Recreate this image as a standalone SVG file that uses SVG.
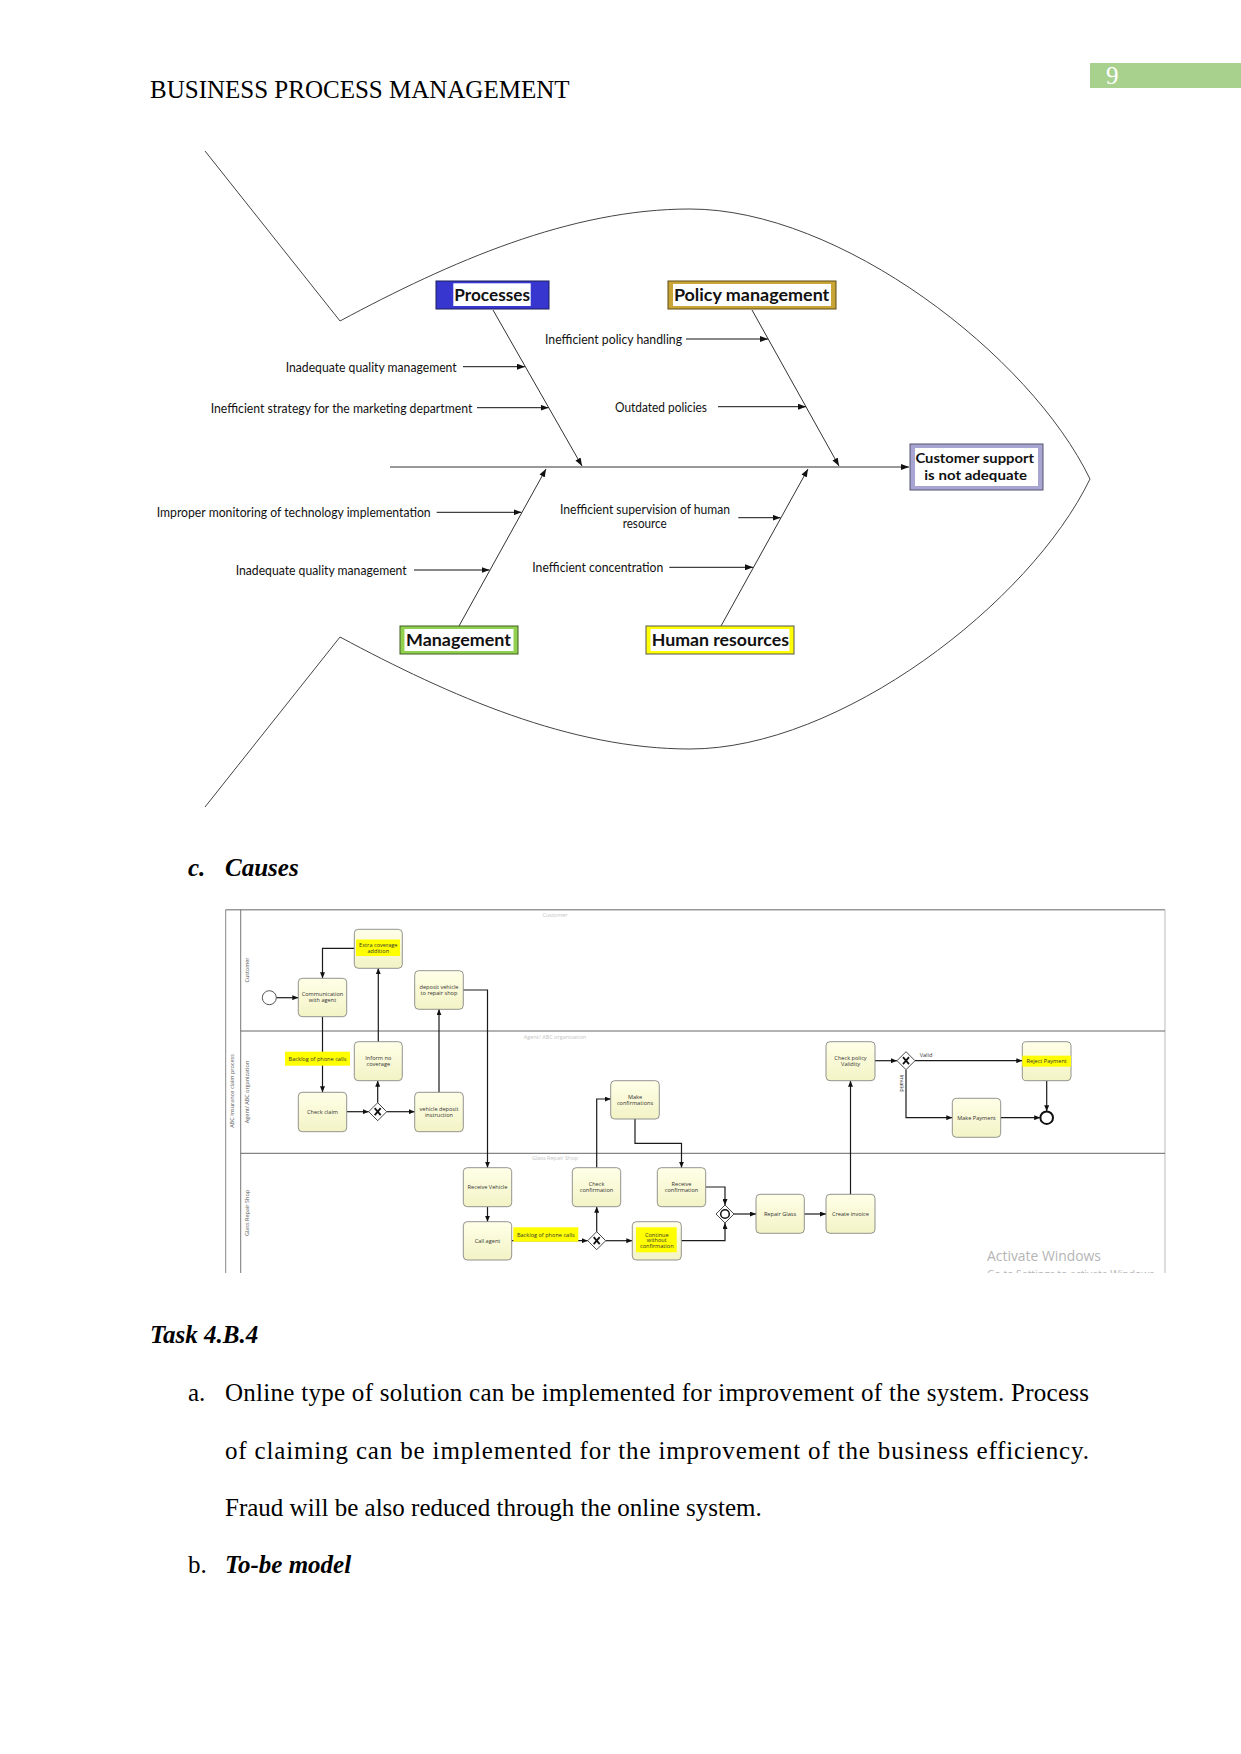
<svg xmlns="http://www.w3.org/2000/svg" width="1241" height="1754" viewBox="0 0 1241 1754">
<style>
.doc{font-family:"Liberation Serif","Times New Roman",serif;font-size:25px;fill:#000}
.bi{font-weight:bold;font-style:italic}
.lbl{font-family:Lato,"Open Sans","Liberation Sans",sans-serif;font-size:13.5px;fill:#111}
.blbl{font-family:Lato,"Open Sans","Liberation Sans",sans-serif;font-size:17px;font-weight:bold;fill:#111}
.bone{stroke:#333;stroke-width:1;fill:none}
.carr{stroke:#111;stroke-width:1;fill:none;marker-end:url(#fa)}
.fish{stroke:#444;stroke-width:1;fill:none}
.task{fill:url(#tg);stroke:#777;stroke-width:0.8}
.tt{font-family:"Open Sans","Liberation Sans",sans-serif;font-size:5.6px;fill:#333;text-anchor:middle}
.hl{fill:#ffff00}
.flow{stroke:#1a1a1a;stroke-width:1.2;fill:none;marker-end:url(#ba)}
.gw{fill:#fff;stroke:#333;stroke-width:0.9}
.lane{stroke:#666;stroke-width:1;fill:none}
.lt{font-family:"Open Sans","Liberation Sans",sans-serif;font-size:5.5px;fill:#555;text-anchor:middle}
.faint{font-family:"Open Sans","Liberation Sans",sans-serif;font-size:5.5px;fill:#c4c4c4;text-anchor:middle}
</style>
<defs>
<marker id="fa" markerUnits="userSpaceOnUse" markerWidth="8" markerHeight="6" refX="8" refY="3" orient="auto"><path d="M0,0 L8,3 L0,6 z" fill="#111"/></marker>
<marker id="ba" markerUnits="userSpaceOnUse" markerWidth="6" markerHeight="5" refX="6" refY="2.5" orient="auto"><path d="M0,0 L6,2.5 L0,5 z" fill="#111"/></marker>
<linearGradient id="tg" x1="0" y1="0" x2="0" y2="1"><stop offset="0" stop-color="#ffffe8"/><stop offset="1" stop-color="#f3f3c6"/></linearGradient>
<clipPath id="wclip"><rect x="900" y="1240" width="270" height="33"/></clipPath>
</defs>

<!-- header -->
<rect x="1090" y="63" width="151" height="25" fill="#a9d18e"/>
<text class="doc" x="1106" y="84" fill="#fff" style="fill:#fff">9</text>
<text class="doc" x="150" y="98">BUSINESS PROCESS MANAGEMENT</text>

<!-- fishbone outline -->
<g id="fish-outline">
<path class="fish" d="M205,151 L340,321 C450,262 570,209 690,209 C840,209 1030,355 1090,479"/>
<path class="fish" d="M205,807 L340,637 C450,696 570,749 690,749 C840,749 1030,603 1090,479"/>
</g>

<g id="connectors">
<line class="bone" x1="390" y1="467" x2="909" y2="467" style="marker-end:url(#fa)"/>
<line class="bone" x1="493" y1="310" x2="582" y2="466" style="marker-end:url(#fa)"/>
<line class="bone" x1="752" y1="310" x2="839" y2="466" style="marker-end:url(#fa)"/>
<line class="bone" x1="459" y1="626" x2="546" y2="469" style="marker-end:url(#fa)"/>
<line class="bone" x1="721" y1="626" x2="808" y2="469" style="marker-end:url(#fa)"/>
<line class="carr" x1="686" y1="339" x2="768" y2="339"/>
<line class="carr" x1="718" y1="406.7" x2="806" y2="406.7"/>
<line class="carr" x1="463" y1="366.7" x2="525" y2="366.7"/>
<line class="carr" x1="477" y1="407.7" x2="548.5" y2="407.7"/>
<line class="carr" x1="436.7" y1="512.3" x2="521.5" y2="512.3"/>
<line class="carr" x1="414" y1="570" x2="489.5" y2="570"/>
<line class="carr" x1="738.3" y1="517.7" x2="780.5" y2="517.7"/>
<line class="carr" x1="669.3" y1="567.3" x2="753" y2="567.3"/>
</g>

<g id="cause-labels">
<text class="lbl" x="545" y="344" textLength="137" lengthAdjust="spacingAndGlyphs">Inefficient policy handling</text>
<text class="lbl" x="615" y="411.5" textLength="92" lengthAdjust="spacingAndGlyphs">Outdated policies</text>
<text class="lbl" x="285.7" y="371.5" textLength="171" lengthAdjust="spacingAndGlyphs">Inadequate quality management</text>
<text class="lbl" x="210.7" y="412.5" textLength="261.6" lengthAdjust="spacingAndGlyphs">Inefficient strategy for the marketing department</text>
<text class="lbl" x="156.7" y="517" textLength="274" lengthAdjust="spacingAndGlyphs">Improper monitoring of technology implementation</text>
<text class="lbl" x="235.7" y="574.8" textLength="171" lengthAdjust="spacingAndGlyphs">Inadequate quality management</text>
<text class="lbl" x="560" y="514" textLength="170" lengthAdjust="spacingAndGlyphs">Inefficient supervision of human</text>
<text class="lbl" x="622.7" y="528.4" textLength="44" lengthAdjust="spacingAndGlyphs">resource</text>
<text class="lbl" x="532.3" y="572" textLength="131" lengthAdjust="spacingAndGlyphs">Inefficient concentration</text>
</g>

<g id="node-processes">
<rect x="436" y="281" width="113" height="28" fill="#3737cf" stroke="#1c1c5a" stroke-width="1"/>
<rect x="453.3" y="283.3" width="77.4" height="22.7" fill="#fff"/>
<text class="blbl" x="454.3" y="301" textLength="75.7" lengthAdjust="spacingAndGlyphs">Processes</text>
</g>
<g id="node-policy">
<rect x="668" y="281" width="168" height="28" fill="#c9a437" stroke="#5e4a12" stroke-width="1"/>
<rect x="673" y="284" width="158" height="22" fill="#fff"/>
<text class="blbl" x="673.9" y="300.5" textLength="155.4" lengthAdjust="spacingAndGlyphs">Policy management</text>
</g>
<g id="node-effect">
<rect x="910" y="444" width="133" height="46" fill="#a9a5d2" stroke="#55536e" stroke-width="1"/>
<rect x="915" y="448" width="123" height="38" fill="#fff"/>
<text class="blbl" x="915.4" y="462.5" style="font-size:14px" textLength="118.5" lengthAdjust="spacingAndGlyphs">Customer support</text>
<text class="blbl" x="924.3" y="480" style="font-size:14px" textLength="102.7" lengthAdjust="spacingAndGlyphs">is not adequate</text>
</g>
<g id="node-management">
<rect x="400" y="626" width="118" height="28" fill="#92d050" stroke="#3e5e1e" stroke-width="1"/>
<rect x="404.5" y="629" width="109" height="22" fill="#fff"/>
<text class="blbl" x="406" y="646" textLength="105" lengthAdjust="spacingAndGlyphs">Management</text>
</g>
<g id="node-hr">
<rect x="646" y="626" width="148" height="28" fill="#ffff00" stroke="#555" stroke-width="1"/>
<rect x="650.5" y="629" width="139" height="22" fill="#fff"/>
<text class="blbl" x="651.7" y="646" textLength="137.3" lengthAdjust="spacingAndGlyphs">Human resources</text>
</g>

<!-- caption -->
<text class="doc bi" x="188" y="876">c.</text>
<text class="doc bi" x="225" y="876">Causes</text>

<!-- BPMN frame -->
<g id="bpmn-frame">
<line x1="225.7" y1="909.7" x2="1165" y2="909.7" stroke="#999" stroke-width="1.6"/>
<line x1="225.7" y1="909.7" x2="225.7" y2="1273" stroke="#888" stroke-width="1"/>
<line x1="240.7" y1="909.7" x2="240.7" y2="1273" stroke="#777" stroke-width="1"/>
<line x1="1165" y1="909.7" x2="1165" y2="1273" stroke="#bbb" stroke-width="1"/>
<line class="lane" x1="240.7" y1="1031" x2="1165" y2="1031"/>
<line class="lane" x1="240.7" y1="1153.3" x2="1165" y2="1153.3"/>
<text class="lt" transform="translate(233.5,1091) rotate(-90)">ABC Insurance claim process</text>
<text class="lt" transform="translate(249,970) rotate(-90)">Customer</text>
<text class="lt" transform="translate(249,1092) rotate(-90)">Agent/ ABC organization</text>
<text class="lt" transform="translate(249,1213) rotate(-90)">Glass Repair Shop</text>
<text class="faint" x="555" y="917">Customer</text>
<text class="faint" x="555" y="1039">Agent/ ABC organization</text>
<text class="faint" x="555" y="1160">Glass Repair Shop</text>
</g>

<g id="bpmn-connectors">
<polyline class="flow" points="276.3,997.7 298.3,997.7"/>
<polyline class="flow" points="354.3,948.3 322.5,948.3 322.5,978.3"/>
<polyline class="flow" points="322.5,1016.7 322.5,1092.3"/>
<polyline class="flow" points="346.7,1111.7 368.7,1111.7"/>
<polyline class="flow" points="377.7,1102.7 377.7,1080.7"/>
<polyline class="flow" points="378.3,1041.7 378.3,968.3"/>
<polyline class="flow" points="386.7,1111.7 414.7,1111.7"/>
<polyline class="flow" points="439,1092.3 439,1009.3"/>
<polyline class="flow" points="463.3,990 487.5,990 487.5,1167.7"/>
<polyline class="flow" points="487.5,1206.7 487.5,1221.7"/>
<polyline class="flow" points="511.7,1240.7 587.7,1240.7"/>
<polyline class="flow" points="596.7,1231.7 596.7,1206.7"/>
<polyline class="flow" points="596.7,1167.7 596.7,1099 610.7,1099"/>
<polyline class="flow" points="635,1119 635,1143.3 681.5,1143.3 681.5,1167.7"/>
<polyline class="flow" points="605.7,1240.7 632.3,1240.7"/>
<polyline class="flow" points="705.7,1187 725,1187 725,1205"/>
<polyline class="flow" points="681.3,1240.7 725,1240.7 725,1223"/>
<polyline class="flow" points="734,1214 756,1214"/>
<polyline class="flow" points="804.3,1214 826,1214"/>
<polyline class="flow" points="850.5,1194.3 850.5,1080.7"/>
<polyline class="flow" points="875,1060.7 897,1060.7"/>
<polyline class="flow" points="915,1060.7 1022.3,1060.7"/>
<polyline class="flow" points="906,1069.7 906,1117.7 952.3,1117.7"/>
<polyline class="flow" points="1000.7,1117.7 1040.2,1117.7"/>
<polyline class="flow" points="1046.7,1080.7 1046.7,1111.2"/>
<text class="tt" x="926" y="1057">Valid</text>
<text class="tt" transform="translate(899.5,1083) rotate(90)">Invalid</text>
<rect class="hl" x="285" y="1051.7" width="65" height="14"/>
<text class="tt" x="317.5" y="1060.7">Backlog of phone calls</text>
<rect class="hl" x="513.3" y="1227.3" width="65" height="14.4"/>
<text class="tt" x="545.8" y="1236.5">Backlog of phone calls</text>
</g>

<g id="start-event"><circle cx="269.3" cy="997.7" r="7" fill="#fff" stroke="#555" stroke-width="1"/></g>
<g id="end-event"><circle cx="1046.7" cy="1117.7" r="6.3" fill="#fff" stroke="#111" stroke-width="2"/></g>

<g id="task-comm"><rect class="task" x="298.3" y="978.3" width="48.4" height="38.4" rx="4"/><text class="tt" x="322.5" y="996">Communication</text><text class="tt" x="322.5" y="1002">with agent</text></g>
<g id="task-extra"><rect class="task" x="354.3" y="929.3" width="48" height="39" rx="4"/><rect class="hl" x="356" y="939.5" width="44" height="16.5"/><text class="tt" x="378.3" y="946.5">Extra coverage</text><text class="tt" x="378.3" y="952.5">addition</text></g>
<g id="task-deposit"><rect class="task" x="414.7" y="970.7" width="48.6" height="38.6" rx="4"/><text class="tt" x="439" y="988.5">deposit vehicle</text><text class="tt" x="439" y="994.5">to repair shop</text></g>
<g id="task-inform"><rect class="task" x="354.3" y="1041.7" width="48" height="39" rx="4"/><text class="tt" x="378.3" y="1059.5">Inform no</text><text class="tt" x="378.3" y="1065.5">coverage</text></g>
<g id="task-checkclaim"><rect class="task" x="298.3" y="1092.3" width="48.4" height="39.4" rx="4"/><text class="tt" x="322.5" y="1114">Check claim</text></g>
<g id="task-instruction"><rect class="task" x="414.7" y="1092.3" width="48.6" height="39.4" rx="4"/><text class="tt" x="439" y="1110.5">vehicle deposit</text><text class="tt" x="439" y="1116.5">instruction</text></g>
<g id="task-makeconf"><rect class="task" x="610.7" y="1080.7" width="48.6" height="38.3" rx="4"/><text class="tt" x="635" y="1098.5">Make</text><text class="tt" x="635" y="1104.5">confirmations</text></g>
<g id="task-receivevehicle"><rect class="task" x="463.3" y="1167.7" width="48.4" height="39" rx="4"/><text class="tt" x="487.5" y="1189">Receive Vehicle</text></g>
<g id="task-callagent"><rect class="task" x="463.3" y="1221.7" width="48.4" height="38.3" rx="4"/><text class="tt" x="487.5" y="1243">Call agent</text></g>
<g id="task-checkconf"><rect class="task" x="572.3" y="1167.7" width="48.4" height="39" rx="4"/><text class="tt" x="596.5" y="1185.5">Check</text><text class="tt" x="596.5" y="1191.5">confirmation</text></g>
<g id="task-receiveconf"><rect class="task" x="657.3" y="1167.7" width="48.4" height="39" rx="4"/><text class="tt" x="681.5" y="1185.5">Receive</text><text class="tt" x="681.5" y="1191.5">confirmation</text></g>
<g id="task-continue"><rect class="task" x="632.3" y="1221.7" width="49" height="38.3" rx="4"/><rect class="hl" x="636" y="1227.3" width="40.7" height="25"/><text class="tt" x="656.8" y="1236.5">Continue</text><text class="tt" x="656.8" y="1242.3">without</text><text class="tt" x="656.8" y="1248.1">confirmation</text></g>
<g id="task-repair"><rect class="task" x="756" y="1194.3" width="48.3" height="39" rx="4"/><text class="tt" x="780" y="1216">Repair Glass</text></g>
<g id="task-invoice"><rect class="task" x="826" y="1194.3" width="49" height="39" rx="4"/><text class="tt" x="850.5" y="1216">Create invoice</text></g>
<g id="task-checkpolicy"><rect class="task" x="826" y="1041.7" width="49" height="39" rx="4"/><text class="tt" x="850.5" y="1059.5">Check policy</text><text class="tt" x="850.5" y="1065.5">Validity</text></g>
<g id="task-reject"><rect class="task" x="1022.3" y="1041.7" width="48.7" height="39" rx="4"/><rect class="hl" x="1022.3" y="1055.7" width="48.7" height="11"/><text class="tt" x="1046.7" y="1063">Reject Payment</text></g>
<g id="task-makepayment"><rect class="task" x="952.3" y="1098.3" width="48.4" height="39" rx="4"/><text class="tt" x="976.5" y="1120">Make Payment</text></g>

<g id="gw1"><path class="gw" d="M377.7,1102.7 L386.7,1111.7 L377.7,1120.7 L368.7,1111.7 z"/><path d="M374.7,1108.2 L380.7,1115.2 M380.7,1108.2 L374.7,1115.2" stroke="#111" stroke-width="1.8"/></g>
<g id="gw2"><path class="gw" d="M596.7,1231.7 L605.7,1240.7 L596.7,1249.7 L587.7,1240.7 z"/><path d="M593.7,1237.2 L599.7,1244.2 M599.7,1237.2 L593.7,1244.2" stroke="#111" stroke-width="1.8"/></g>
<g id="gw3"><path class="gw" d="M725,1205 L734,1214 L725,1223 L716,1214 z"/><circle cx="725" cy="1214" r="4.3" fill="none" stroke="#111" stroke-width="1.5"/></g>
<g id="gw4"><path class="gw" d="M906,1051.7 L915,1060.7 L906,1069.7 L897,1060.7 z"/><path d="M903,1057.2 L909,1064.2 M909,1057.2 L903,1064.2" stroke="#111" stroke-width="1.8"/></g>

<g clip-path="url(#wclip)">
<text x="987" y="1261" font-family="'Open Sans','Liberation Sans',sans-serif" font-size="14" fill="#b5b5b5" textLength="114" lengthAdjust="spacingAndGlyphs">Activate Windows</text>
<text x="987" y="1278" font-family="'Open Sans','Liberation Sans',sans-serif" font-size="11" fill="#b5b5b5" textLength="170" lengthAdjust="spacingAndGlyphs">Go to Settings to activate Windows.</text>
</g>

<!-- body text -->
<text class="doc bi" x="150" y="1343">Task 4.B.4</text>
<text class="doc" x="188" y="1401">a.</text>
<text class="doc" x="225" y="1401" textLength="864" lengthAdjust="spacing">Online type of solution can be implemented for improvement of the system. Process</text>
<text class="doc" x="225" y="1458.5" textLength="864" lengthAdjust="spacing">of claiming can be implemented for the improvement of the business efficiency.</text>
<text class="doc" x="225" y="1516">Fraud will be also reduced through the online system.</text>
<text class="doc" x="188" y="1573">b.</text>
<text class="doc bi" x="225" y="1573">To-be model</text>
</svg>
